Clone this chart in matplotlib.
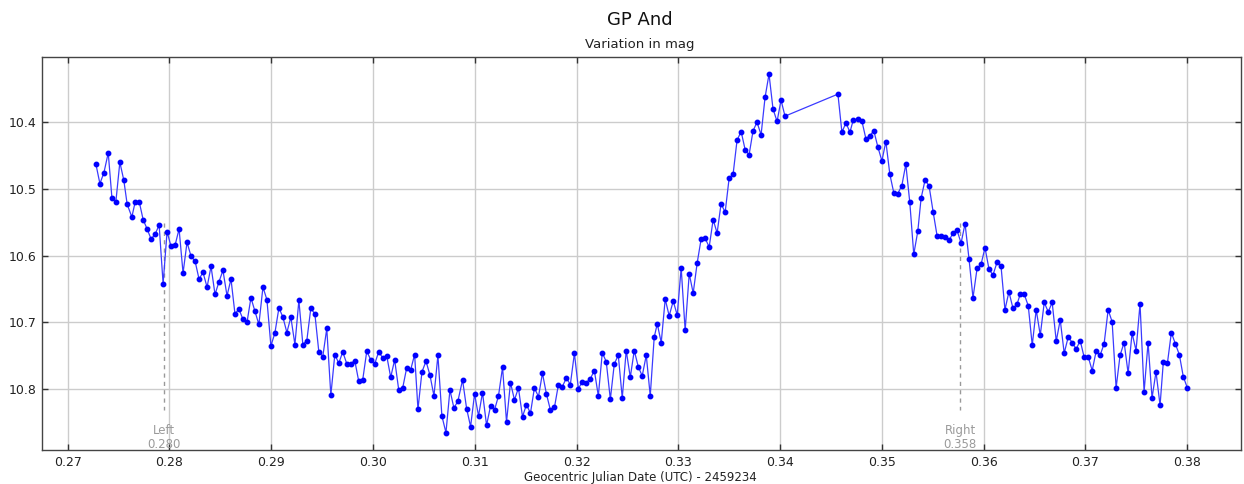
import matplotlib
matplotlib.use("Agg")
import matplotlib.pyplot as plt

# Geocentric JD - 2459234
jd = [
 0.27278,0.27317,0.27356,0.27399,0.27435,0.27474,0.27513,0.27552,0.27585,0.27631,
 0.27663,0.27703,0.27742,0.27781,0.27820,0.27859,0.27899,0.27938,0.27977,0.28016,
 0.28056,0.28095,0.28134,0.28173,0.28213,0.28252,0.28291,0.28330,0.28370,0.28409,
 0.28448,0.28487,0.28526,0.28566,0.28605,0.28644,0.28683,0.28722,0.28762,0.28801,
 0.28840,0.28879,0.28919,0.28958,0.28997,0.29036,
 0.29076,0.29115,0.29154,0.29193,0.29233,0.29272,0.29311,0.29350,0.29389,0.29429,
 0.29468,0.29507,0.29546,0.29586,0.29625,0.29664,0.29703,0.29743,0.29782,0.29821,
 0.29860,0.29899,0.29939,0.29978,0.30017,0.30056,0.30096,0.30135,0.30174,0.30213,
 0.30253,0.30292,0.30331,0.30370,0.30409,0.30442,0.30481,0.30521,0.30560,0.30599,
 0.30638,0.30677,0.30717,0.30756,0.30795,0.30834,
 0.30880,0.30920,0.30959,0.30998,0.31037,0.31076,0.31116,0.31155,0.31194,0.31233,
 0.31273,0.31312,0.31351,0.31390,0.31429,0.31469,0.31508,0.31547,0.31586,0.31626,
 0.31665,0.31704,0.31743,0.31783,0.31822,0.31861,0.31900,0.31939,0.31979,0.32018,
 0.32057,0.32096,0.32136,0.32175,0.32214,0.32253,0.32292,0.32332,0.32371,0.32410,
 0.32449,0.32488,0.32528,0.32567,0.32606,0.32645,0.32685,0.32724,0.32763,
 0.32793,0.32832,0.32871,0.32910,0.32950,0.32989,0.33028,0.33067,0.33107,0.33146,
 0.33185,0.33224,0.33264,0.33303,0.33342,0.33381,0.33420,0.33460,0.33499,0.33538,
 0.33577,0.33617,0.33656,0.33695,0.33734,0.33773,0.33813,0.33852,0.33891,0.33930,
 0.33970,0.34009,0.34048,
 0.34568,0.34607,0.34647,0.34686,0.34718,0.34764,0.34803,0.34843,0.34882,0.34921,
 0.34960,0.35000,0.35039,0.35078,0.35117,0.35156,0.35196,0.35235,0.35274,0.35313,
 0.35353,0.35385,0.35425,0.35464,0.35503,0.35542,0.35581,0.35621,0.35660,0.35699,
 0.35738,0.35778,0.35817,0.35856,0.35895,0.35935,0.35974,0.36013,0.36052,0.36091,
 0.36131,0.36170,0.36209,0.36248,0.36288,0.36327,
 0.36360,0.36399,0.36438,0.36477,0.36516,0.36556,0.36595,0.36634,0.36673,0.36713,
 0.36752,0.36791,0.36830,0.36870,0.36909,0.36948,0.36987,0.37026,0.37066,0.37105,
 0.37144,0.37183,0.37223,0.37262,0.37301,0.37340,0.37380,0.37419,0.37458,0.37497,
 0.37536,0.37576,0.37615,0.37654,0.37693,0.37733,0.37765,0.37805,0.37844,0.37883,
 0.37922,0.37961,0.38001,
]

mag = [
 10.463,10.492,10.476,10.446,10.513,10.519,10.460,10.487,10.523,10.542,
 10.520,10.519,10.546,10.560,10.575,10.568,10.554,10.642,10.564,10.586,
 10.584,10.560,10.626,10.580,10.601,10.608,10.635,10.625,10.647,10.616,
 10.658,10.639,10.622,10.660,10.635,10.687,10.680,10.695,10.700,10.663,
 10.683,10.703,10.647,10.666,10.735,10.716,
 10.678,10.692,10.715,10.692,10.733,10.667,10.733,10.727,10.679,10.687,
 10.744,10.751,10.709,10.809,10.748,10.761,10.744,10.762,10.762,10.757,
 10.788,10.786,10.743,10.756,10.762,10.744,10.753,10.750,10.782,10.756,
 10.801,10.798,10.768,10.771,10.748,10.830,10.774,10.758,10.779,10.810,
 10.749,10.840,10.865,10.801,10.828,10.818,
 10.786,10.829,10.856,10.807,10.840,10.805,10.854,10.825,10.831,10.810,
 10.767,10.849,10.790,10.816,10.798,10.841,10.823,10.836,10.798,10.811,
 10.776,10.807,10.831,10.827,10.793,10.796,10.783,10.793,10.746,10.799,
 10.789,10.790,10.784,10.772,10.810,10.745,10.759,10.815,10.762,10.749,
 10.813,10.742,10.782,10.742,10.766,10.780,10.749,10.810,10.722,
 10.702,10.730,10.665,10.690,10.668,10.689,10.618,10.712,10.627,10.656,
 10.611,10.575,10.574,10.587,10.546,10.566,10.522,10.535,10.484,10.478,
 10.427,10.414,10.441,10.449,10.413,10.400,10.419,10.363,10.328,10.380,
 10.399,10.367,10.391,
 10.358,10.415,10.401,10.415,10.397,10.395,10.398,10.425,10.420,10.413,
 10.437,10.458,10.429,10.478,10.506,10.507,10.495,10.463,10.520,10.598,
 10.563,10.514,10.486,10.496,10.534,10.570,10.570,10.572,10.577,10.566,
 10.562,10.581,10.552,10.605,10.663,10.619,10.613,10.588,10.620,10.629,
 10.610,10.615,10.681,10.654,10.679,10.673,
 10.657,10.658,10.675,10.734,10.681,10.719,10.670,10.684,10.670,10.728,
 10.696,10.746,10.722,10.730,10.740,10.727,10.752,10.751,10.772,10.743,
 10.749,10.732,10.681,10.699,10.798,10.749,10.730,10.776,10.716,10.742,
 10.672,10.804,10.730,10.813,10.774,10.824,10.759,10.761,10.715,10.732,
 10.748,10.781,10.798,
]

# Comparison markers
marker_names = ["Left", "Right"]
marker_jd = [0.27951, 0.35768]
marker_labels = ["0.280", "0.358"]
marker_top, marker_bottom = 10.551, 10.831

x_ticks = [0.27, 0.28, 0.29, 0.30, 0.31, 0.32, 0.33, 0.34, 0.35, 0.36, 0.37, 0.38]
y_ticks = [10.4, 10.5, 10.6, 10.7, 10.8]

plt.rcParams['font.family'] = ['DejaVu Sans']

fig = plt.figure(figsize=(12.44, 4.84), dpi=100)
ax = fig.add_axes([0.0335, 0.0702, 0.964, 0.8126])

ax.plot(jd, mag, color='#3a3aff', lw=0.9, marker='o', markersize=3.2,
        markerfacecolor='#0000ff', markeredgecolor='#0000ff', zorder=3)

for name, xm, lab in zip(marker_names, marker_jd, marker_labels):
    ax.plot([xm, xm], [marker_top, marker_bottom], ls=(0, (3, 3)), color='#999999', lw=1.0, zorder=2)
    ax.text(xm, 10.862, name, ha='center', va='center', color='#9a9a9a', fontsize=8.5)
    ax.text(xm, 10.883, lab, ha='center', va='center', color='#9a9a9a', fontsize=8.5, clip_on=False)

ax.set_xlim(0.26745, 0.38527)
ax.set_ylim(10.891, 10.302)
ax.set_xticks(x_ticks)
ax.set_xticklabels([f"{v:.2f}" for v in x_ticks])
ax.set_yticks(y_ticks)
ax.set_yticklabels([f"{v:.1f}" for v in y_ticks])
ax.grid(True, color='#cccccc', lw=1.0, zorder=0)
ax.set_axisbelow(True)
ax.tick_params(direction='in', length=4, width=1, top=True, right=True,
               labelsize=9, colors='#333333', labelcolor='#222222', pad=4)
for sp in ax.spines.values():
    sp.set_color('#444444')
    sp.set_linewidth(1.0)

fig.text(0.5145, 0.958, "GP And", ha='center', va='center', fontsize=13, color='#111111')
fig.text(0.5145, 0.908, "Variation in mag", ha='center', va='center', fontsize=9.5, color='#222222')
fig.text(0.5145, 0.0135, "Geocentric Julian Date (UTC) - 2459234", ha='center', va='center',
         fontsize=8.5, color='#222222')

fig.savefig("out.png", dpi=100)
